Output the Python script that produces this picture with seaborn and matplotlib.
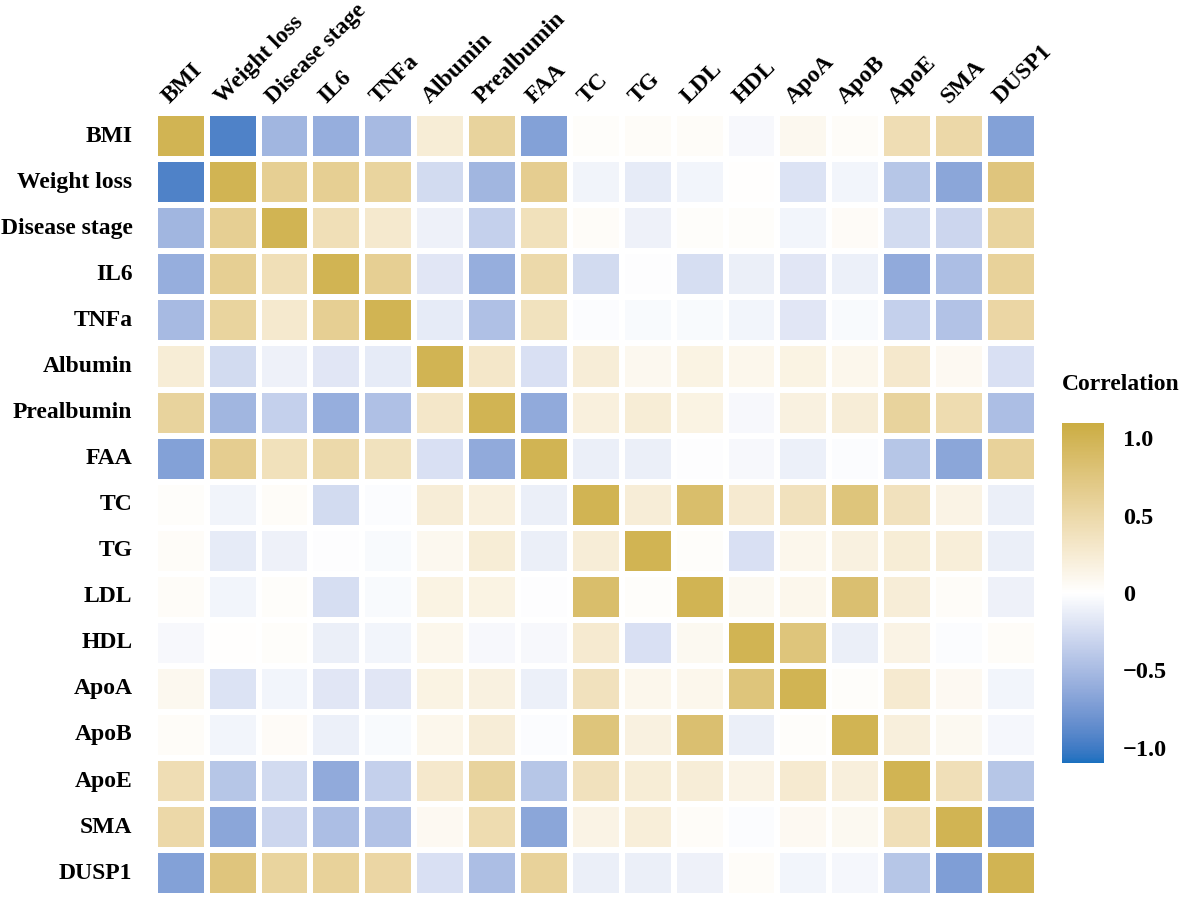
import numpy as np
import pandas as pd
import matplotlib
matplotlib.use("Agg")
import matplotlib.pyplot as plt
import matplotlib.colors as mcolors
import matplotlib.transforms as mtrans
import seaborn as sns

# variables in the order shown on both axes
labels = ["BMI", "Weight loss", "Disease stage", "IL6", "TNFa", "Albumin",
          "Prealbumin", "FAA", "TC", "TG", "LDL", "HDL", "ApoA", "ApoB",
          "ApoE", "SMA", "DUSP1"]

# correlation values (rows follow labels)
corr_values = [
    [1.00, -0.94, -0.54, -0.60, -0.50, 0.24, 0.57, -0.70, 0.03, 0.04, 0.04, -0.05, 0.09, 0.04, 0.43, 0.50, -0.70],
    [-0.94, 1.00, 0.63, 0.63, 0.56, -0.26, -0.54, 0.65, -0.08, -0.14, -0.07, 0.01, -0.20, -0.07, -0.42, -0.66, 0.76],
    [-0.54, 0.63, 1.00, 0.42, 0.28, -0.10, -0.34, 0.39, 0.04, -0.10, 0.03, 0.03, -0.07, 0.05, -0.26, -0.30, 0.56],
    [-0.60, 0.63, 0.42, 1.00, 0.63, -0.18, -0.60, 0.49, -0.26, -0.01, -0.24, -0.12, -0.18, -0.11, -0.62, -0.48, 0.59],
    [-0.50, 0.56, 0.28, 0.63, 1.00, -0.14, -0.46, 0.37, -0.02, -0.04, -0.04, -0.07, -0.18, -0.04, -0.34, -0.44, 0.53],
    [0.24, -0.26, -0.10, -0.18, -0.14, 1.00, 0.31, -0.22, 0.23, 0.09, 0.16, 0.11, 0.16, 0.11, 0.30, 0.07, -0.22],
    [0.57, -0.54, -0.34, -0.60, -0.46, 0.31, 1.00, -0.62, 0.19, 0.24, 0.16, -0.05, 0.18, 0.23, 0.57, 0.46, -0.48],
    [-0.70, 0.65, 0.39, 0.49, 0.37, -0.22, -0.62, 1.00, -0.12, -0.12, -0.01, -0.05, -0.11, -0.02, -0.42, -0.66, 0.59],
    [0.03, -0.08, 0.04, -0.26, -0.02, 0.23, 0.19, -0.12, 1.00, 0.23, 0.86, 0.27, 0.38, 0.77, 0.38, 0.15, -0.12],
    [0.04, -0.14, -0.10, -0.01, -0.04, 0.09, 0.24, -0.12, 0.23, 1.00, 0.03, -0.22, 0.11, 0.18, 0.24, 0.22, -0.12],
    [0.04, -0.07, 0.03, -0.24, -0.04, 0.16, 0.16, -0.01, 0.86, 0.03, 1.00, 0.08, 0.11, 0.84, 0.23, 0.04, -0.10],
    [-0.05, 0.01, 0.03, -0.12, -0.07, 0.11, -0.05, -0.05, 0.27, -0.22, 0.08, 1.00, 0.77, -0.12, 0.15, -0.02, 0.04],
    [0.09, -0.20, -0.07, -0.18, -0.18, 0.16, 0.18, -0.11, 0.38, 0.11, 0.11, 0.77, 1.00, 0.03, 0.27, 0.07, -0.07],
    [0.04, -0.07, 0.05, -0.11, -0.04, 0.11, 0.23, -0.02, 0.77, 0.18, 0.84, -0.12, 0.03, 1.00, 0.20, 0.08, -0.06],
    [0.43, -0.42, -0.26, -0.62, -0.34, 0.30, 0.57, -0.42, 0.38, 0.24, 0.23, 0.15, 0.27, 0.20, 1.00, 0.41, -0.42],
    [0.50, -0.66, -0.30, -0.48, -0.44, 0.07, 0.46, -0.66, 0.15, 0.22, 0.04, -0.02, 0.07, 0.08, 0.41, 1.00, -0.72],
    [-0.70, 0.76, 0.56, 0.59, 0.53, -0.22, -0.48, 0.59, -0.12, -0.12, -0.10, 0.04, -0.07, -0.06, -0.42, -0.72, 1.00],
]

cbar_ticks = [-1.0, -0.5, 0.0, 0.5, 1.0]
cbar_labels = ["\u22121.0", "\u22120.5", "0", "0.5", "1.0"]

low_col = "#1A70BF"
mid_col = "#FFFFFF"
high_col = "#CBAD42"


# diverging gradient interpolated in Lab space (like ggplot's gradient2)
def to_lab(hex_col):
    rgb = np.array(mcolors.to_rgb(hex_col))
    lin = np.where(rgb <= 0.04045, rgb / 12.92, ((rgb + 0.055) / 1.055) ** 2.4)
    m = np.array([[0.4124, 0.3576, 0.1805],
                  [0.2126, 0.7152, 0.0722],
                  [0.0193, 0.1192, 0.9505]])
    xyz = m @ lin / np.array([0.95047, 1.0, 1.08883])
    f = np.where(xyz > 0.008856, np.cbrt(xyz), 7.787 * xyz + 16 / 116)
    return np.array([116 * f[1] - 16, 500 * (f[0] - f[1]), 200 * (f[1] - f[2])])


def from_lab(lab):
    fy = (lab[0] + 16) / 116
    fx = fy + lab[1] / 500
    fz = fy - lab[2] / 200
    f = np.array([fx, fy, fz])
    xyz = np.where(f ** 3 > 0.008856, f ** 3, (f - 16 / 116) / 7.787)
    xyz = xyz * np.array([0.95047, 1.0, 1.08883])
    m_inv = np.array([[3.2406, -1.5372, -0.4986],
                      [-0.9689, 1.8758, 0.0415],
                      [0.0557, -0.2040, 1.0570]])
    lin = m_inv @ xyz
    rgb = np.where(lin <= 0.0031308, 12.92 * lin, 1.055 * np.clip(lin, 0, None) ** (1 / 2.4) - 0.055)
    return np.clip(rgb, 0, 1)


lab_low, lab_mid, lab_high = to_lab(low_col), to_lab(mid_col), to_lab(high_col)
steps = []
for t in np.linspace(0, 1, 256):
    if t < 0.5:
        s = t / 0.5
        steps.append(from_lab(lab_low + (lab_mid - lab_low) * s))
    else:
        s = (t - 0.5) / 0.5
        steps.append(from_lab(lab_mid + (lab_high - lab_mid) * s))
cmap = mcolors.ListedColormap(steps)

sns.set_theme(style="white")
plt.rcParams['font.family'] = ['Liberation Serif', 'DejaVu Serif']
plt.rcParams['font.weight'] = 'bold'
plt.rcParams['text.color'] = 'black'
plt.rcParams['xtick.color'] = 'black'
plt.rcParams['ytick.color'] = 'black'

df = pd.DataFrame(corr_values, index=labels, columns=labels)

fig = plt.figure(figsize=(11.81, 8.98), dpi=100)
ax = fig.add_axes([0.131, 0.002, 0.747, 0.872])
cax = fig.add_axes([0.899, 0.150, 0.0356, 0.379])

sns.heatmap(df, ax=ax, cmap=cmap, vmin=-1.1, vmax=1.1, linewidths=3,
            linecolor="white", cbar_ax=cax, cbar_kws={"ticks": cbar_ticks})

ax.xaxis.tick_top()
ax.tick_params(length=0, pad=4)
ax.set_xticklabels(labels, rotation=45, ha="left", va="bottom",
                   rotation_mode="anchor", fontsize=17, fontweight="bold", color="black")
ax.set_yticklabels(labels, rotation=0, fontsize=17, fontweight="bold", color="black")
shift = mtrans.ScaledTranslation(-7 / 100, 0, fig.dpi_scale_trans)
for lbl in ax.get_xticklabels():
    lbl.set_transform(lbl.get_transform() + shift)
ax.tick_params(axis="y", pad=16)

cbar = ax.collections[0].colorbar
cbar.outline.set_visible(False)
cbar.set_ticks(cbar_ticks)
cbar.set_ticklabels(cbar_labels)
cbar.ax.tick_params(direction="in", colors="white", length=9, width=1.2,
                    left=True, right=True, labelsize=17.5, labelcolor="black", pad=14)
for t in cbar.ax.get_yticklabels():
    t.set_fontweight("bold")
cbar.ax.set_title("Correlation", fontsize=17, fontweight="bold", loc="left",
                  pad=24, color="black")

fig.savefig("out.png", dpi=100)
